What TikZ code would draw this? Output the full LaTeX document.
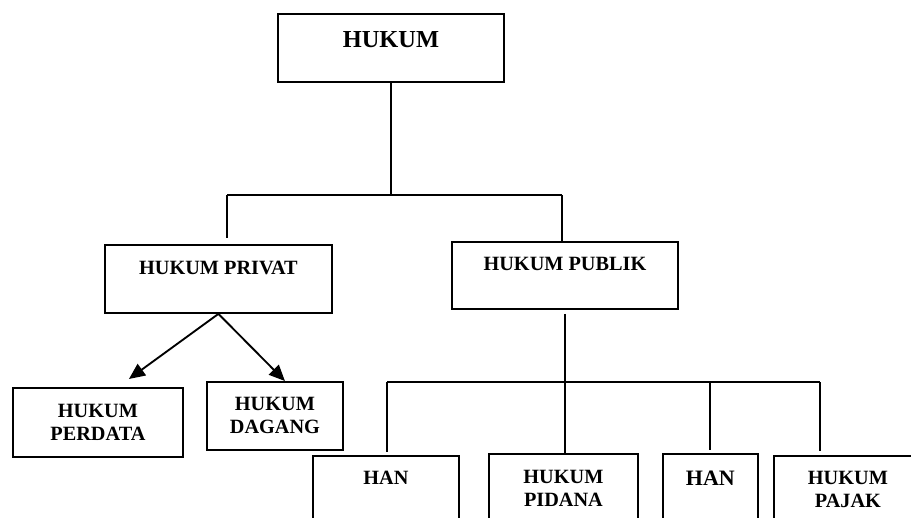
\documentclass[tikz,border=0pt]{standalone}
\usepackage{fontspec}
\setmainfont{Liberation Serif}
\usetikzlibrary{arrows.meta,positioning,calc}
\tikzset{
  box/.style={
    draw=black,
    line width=1.4pt,
    anchor=north west,
    inner sep=0pt,
    align=center,
    font=\bfseries\fontsize{15.2}{17.5}\selectfont
  },
  link/.style={line width=1.5pt, draw=black},
  branch/.style={-{Triangle[length=12pt,width=10.5pt]}, line width=1.4pt, draw=black}
}
\begin{document}
\begin{tikzpicture}[x=0.75pt, y=-0.75pt]
\useasboundingbox (0,0) rectangle (911,518);
\clip (0,0) rectangle (911,518);

% Top level
\node[box, minimum width=169.5pt, text height=25.5pt, text depth=25.5pt,
      font=\bfseries\fontsize{18.3}{21}\selectfont] (hukum) at (277,13) {HUKUM};

% Second level
\node[box, minimum width=170.25pt, text height=22.2pt, text depth=28.8pt] (privat) at (104,244) {HUKUM PRIVAT};
\node[box, minimum width=169.5pt, text height=21.45pt, text depth=28.8pt] (publik) at (451,241) {HUKUM PUBLIK};

% Private branch
\node[box, minimum width=127.5pt, text height=39.7pt, text depth=12.05pt] (perdata) at (12,387) {HUKUM\\PERDATA};
\node[box, minimum width=102pt, text height=38.95pt, text depth=12.05pt] (dagang) at (206,381) {HUKUM\\DAGANG};

% Public branch
\node[box, minimum width=109.5pt, text height=21.45pt, text depth=42.3pt] (han) at (312,455) {HAN};
\node[box, minimum width=111.75pt, text height=39.7pt, text depth=25.55pt] (pidana) at (488,453) {HUKUM\\PIDANA};
\node[box, minimum width=71.25pt, text height=23.5pt, text depth=41.8pt,
      font=\bfseries\fontsize{16.5}{19}\selectfont] (hantwo) at (662,453) {HAN};
\node[box, minimum width=111pt, text height=38.95pt, text depth=24.8pt] (pajak) at (773,455) {HUKUM\\PAJAK};

% Upper bus
\coordinate (busL) at (227,195);
\coordinate (busR) at (562,195);
\draw[link] (hukum.south) -- (hukum.south |- busL);
\draw[link] (busL) -- (busR);
\draw[link] (busL) -- ([yshift=4.5pt]busL |- privat.north);
\draw[link] (busR) -- (busR |- publik.north);

% Private arrows
\draw[branch] (privat.south) -- ([xshift=23.25pt, yshift=6pt]perdata.north);
\draw[branch] (privat.south) -- ([xshift=7.5pt]dagang.north);

% Lower bus
\coordinate (pubL) at (387,382);
\coordinate (pubR) at (820,382);
\draw[link] ([yshift=-3pt]publik.south) -- (publik.south |- pidana.north);
\draw[link] (pubL) -- (pubR);
\draw[link] (pubL) -- ([yshift=2pt]pubL |- han.north);
\draw[link] (hantwo.north |- pubL) -- ([yshift=2pt]hantwo.north);
\draw[link] (pubR) -- ([yshift=3pt]pubR |- pajak.north);

\end{tikzpicture}
\end{document}
